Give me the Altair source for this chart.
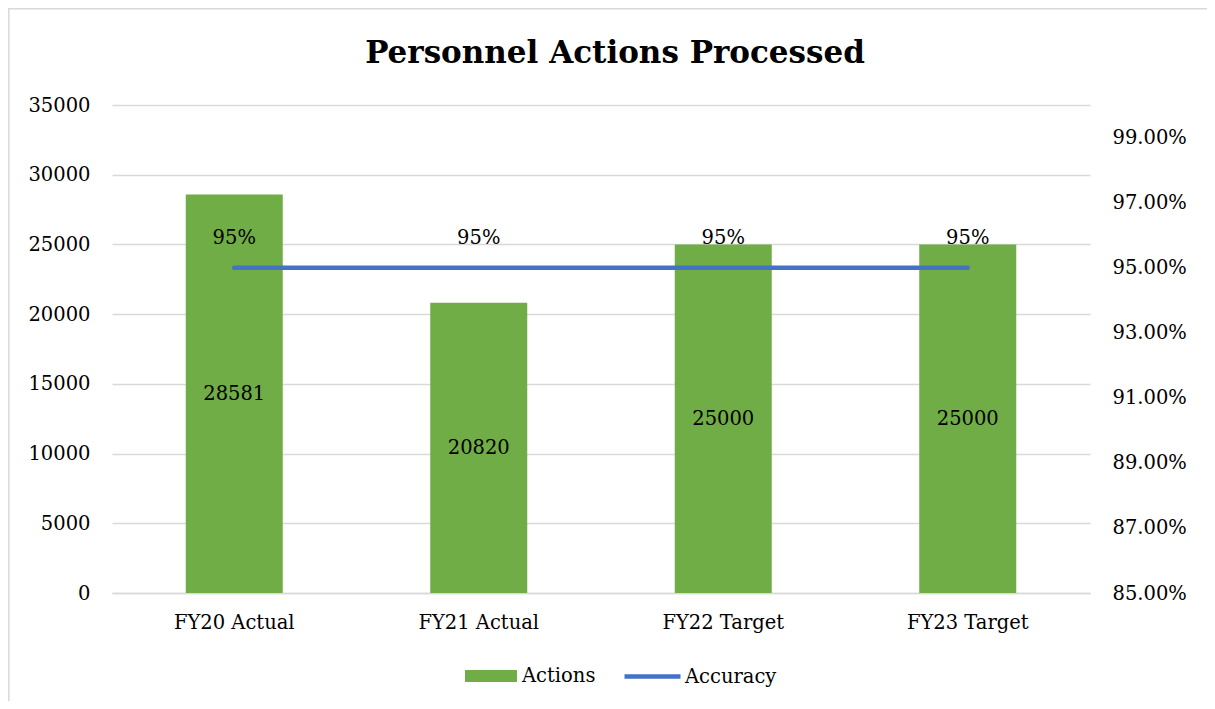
import altair as alt
import pandas as pd

categories = ["FY20 Actual", "FY21 Actual", "FY22 Target", "FY23 Target"]
actions = [28581, 20820, 25000, 25000]
accuracy = [0.95, 0.95, 0.95, 0.95]

df = pd.DataFrame({"Category": categories, "Actions": actions, "Accuracy": accuracy})

FONT = "DejaVu Serif"
GREEN = "#70AD47"
BLUE = "#4472C4"
FS = 19.5

x = alt.X("Category:N", sort=categories, title=None,
          scale=alt.Scale(paddingInner=0, paddingOuter=0),
          axis=alt.Axis(labelAngle=0, labelFontSize=FS, labelFont=FONT, labelPadding=20, ticks=False,
                        domainColor="#D9D9D9", domainWidth=1.5, labelColor="#000000"))

base = alt.Chart(df)

bars = base.mark_bar(size=97).encode(
    x=x,
    y=alt.Y("Actions:Q", title=None,
            scale=alt.Scale(domain=[0, 35000]),
            axis=alt.Axis(values=[0, 5000, 10000, 15000, 20000, 25000, 30000, 35000],
                          format="d", labelFontSize=FS, labelFont=FONT, labelPadding=22, ticks=False,
                          domain=False, gridColor="#D9D9D9", gridWidth=1.5, labelColor="#000000")),
    color=alt.Color("s:N", scale=alt.Scale(domain=["Actions"], range=[GREEN]),
                    legend=alt.Legend(title=None, orient="none", legendX=352, legendY=544,
                                      symbolType="M-1,-0.23H1V0.23H-1Z", symbolSize=2704,
                                      labelFontSize=FS, labelFont=FONT, labelColor="#000000",
                                      labelOffset=4, padding=0)),
).transform_calculate(s="'Actions'")

bar_labels = base.mark_text(fontSize=FS, font=FONT, color="#000000").encode(
    x=alt.X("Category:N", sort=categories),
    y=alt.Y("mid:Q", scale=alt.Scale(domain=[0, 35000])),
    text=alt.Text("Actions:Q", format="d"),
).transform_calculate(mid="datum.Actions / 2")

frame_df = pd.DataFrame({"k": [0]})
border_top = alt.Chart(frame_df).mark_rule(color="#D9D9D9", strokeWidth=1.5).encode(
    x=alt.value(-104), x2=alt.value(1111), y=alt.value(-96.2))
border_left = alt.Chart(frame_df).mark_rule(color="#D9D9D9", strokeWidth=1.5).encode(
    x=alt.value(-103.2), y=alt.value(-97), y2=alt.value(596))

left = alt.layer(bars, bar_labels, border_top, border_left)

line = base.mark_line(strokeWidth=4.5, strokeCap="round").encode(
    x=alt.X("Category:N", sort=categories),
    y=alt.Y("Accuracy:Q", title=None,
            scale=alt.Scale(domain=[0.85, 1.0]),
            axis=alt.Axis(orient="right", values=[0.85, 0.87, 0.89, 0.91, 0.93, 0.95, 0.97, 0.99],
                          format=".2%", labelFontSize=FS, labelFont=FONT, labelPadding=22, ticks=False,
                          domain=False, grid=False, labelColor="#000000")),
    stroke=alt.Stroke("s:N", scale=alt.Scale(domain=["Accuracy"], range=[BLUE]),
                      legend=alt.Legend(title=None, orient="none", legendX=510, legendY=541,
                                        symbolType="stroke", symbolSize=3136, symbolStrokeWidth=4.5,
                                        labelFontSize=FS, labelFont=FONT, labelColor="#000000",
                                        labelOffset=2, padding=0)),
).transform_calculate(s="'Accuracy'")

acc_labels = base.mark_text(fontSize=FS, font=FONT, color="#000000", dy=-30).encode(
    x=alt.X("Category:N", sort=categories),
    y=alt.Y("Accuracy:Q", scale=alt.Scale(domain=[0.85, 1.0])),
    text=alt.Text("Accuracy:Q", format=".0%"),
)

right = alt.layer(line, acc_labels)

chart = alt.layer(left, right).resolve_scale(
    y="independent", color="independent", stroke="independent"
).properties(
    width=978, height=488,
    title=alt.TitleParams("Personnel Actions Processed", fontSize=31, font=FONT,
                          fontWeight="bold", color="#000000", anchor="middle", offset=-63, dx=14),
    padding={"left": 104, "top": 97, "right": 117, "bottom": 108},
    autosize=alt.AutoSizeParams(type="none"),
).configure(background="white").configure_view(stroke=None)

chart.save("out.html", embed_options={"renderer": "svg", "actions": False})
